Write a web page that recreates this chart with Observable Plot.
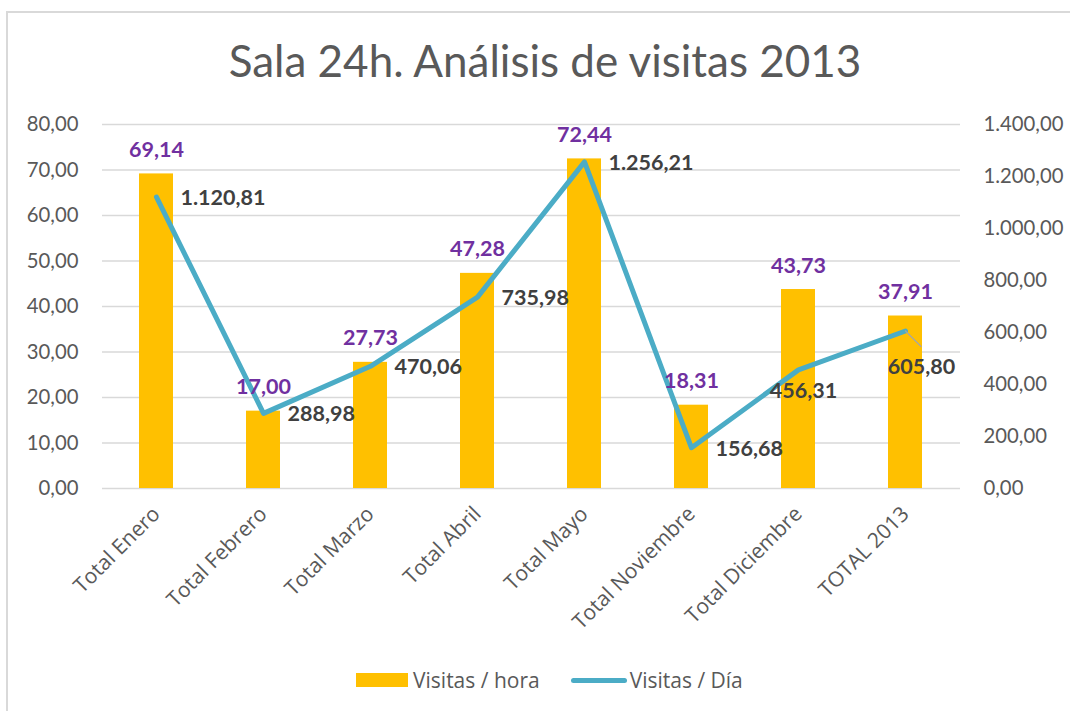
<!DOCTYPE html>
<html><head><meta charset="utf-8">
<script src="https://cdn.jsdelivr.net/npm/d3@7"></script>
<script src="https://cdn.jsdelivr.net/npm/@observablehq/plot@0.6"></script>
<style>
body{margin:0;background:#fff;font-family:Lato,"Open Sans",sans-serif;}
#wrap{position:relative;width:1070px;height:711px;overflow:hidden;background:#fff;}
#frame{position:absolute;left:6px;top:11px;width:1200px;height:800px;border-left:2px solid #D9D9D9;border-top:2px solid #D9D9D9;}
#title{position:absolute;left:0;width:1090px;top:34px;line-height:52px;text-align:center;font-size:44px;color:#595959;white-space:nowrap;font-family:Lato,sans-serif;}
#chart{position:absolute;left:0;top:0;}
#legend{position:absolute;left:356px;top:667px;height:26px;display:flex;align-items:center;font-size:21px;color:#595959;white-space:nowrap;font-family:"Open Sans",sans-serif;}
.sw-bar{width:52px;height:14px;background:#FFC000;margin-right:5px;}
.sw-line{width:56px;height:5px;border-radius:3px;background:#4BACC6;margin-right:3px;}
.lab{display:inline-block;}
</style>
</head><body>
<div id="wrap">
  <div id="frame"></div>
  <div id="chart"></div>
  <div id="title"></div>
  <div id="legend"></div>
</div>
<script>
const titleText = "Sala 24h. Análisis de visitas 2013";
const categories = ["Total Enero","Total Febrero","Total Marzo","Total Abril","Total Mayo","Total Noviembre","Total Diciembre","TOTAL 2013"];
const visitasHora = [69.14, 17.00, 27.73, 47.28, 72.44, 18.31, 43.73, 37.91];
const visitasDia = [1120.81, 288.98, 470.06, 735.98, 1256.21, 156.68, 456.31, 605.80];
const leftTicks = [0,10,20,30,40,50,60,70,80];
const rightTicks = [0,200,400,600,800,1000,1200,1400];
const seriesNames = ["Visitas / hora","Visitas / Día"];
const seriesColors = ["#FFC000","#4BACC6"];

const leftMax = 80, rightMax = 1400, k = leftMax / rightMax;
const locale = d3.formatLocale({decimal:",", thousands:".", grouping:[3], currency:["","€"]});
const fmt = locale.format(",.2f");

const data = categories.map((c,i)=>({cat:c, hora:visitasHora[i], dia:visitasDia[i], ys:visitasDia[i]*k}));
const belowLabel = ["Total Diciembre"];
const leaderLabel = ["TOTAL 2013"];
const normal = d => !belowLabel.includes(d.cat) && !leaderLabel.includes(d.cat);

const font = "Lato, 'Open Sans', sans-serif";

const chart = Plot.plot({
  width:1070, height:711,
  marginTop:124, marginBottom:223, marginLeft:102, marginRight:110,
  style:{fontFamily:font, fontSize:"20.3px", color:"#595959", background:"transparent", overflow:"visible"},
  x:{domain:categories, paddingInner:0.68, paddingOuter:0.34},
  y:{domain:[0,leftMax]},
  marks:[
    Plot.gridY(leftTicks, {stroke:"#D9D9D9", strokeOpacity:1, strokeWidth:1.3}),
    Plot.axisY({ticks:leftTicks, tickSize:0, tickPadding:24, tickFormat:fmt, label:null, fill:"#595959"}),
    Plot.axisY({anchor:"right", ticks:rightTicks.map(v=>v*k), tickSize:0, tickPadding:23, tickFormat:d=>fmt(Math.round(d/k*100)/100), label:null, fill:"#595959"}),
    Plot.axisX({tickRotate:-45, tickSize:0, tickPadding:22, label:null, fill:"#595959", fontFamily:"'Open Sans', sans-serif", fontSize:21}),
    Plot.barY(data, {x:"cat", y:"hora", fill:seriesColors[0]}),
    Plot.line(data, {x:"cat", y:"ys", stroke:seriesColors[1], strokeWidth:5, strokeLinejoin:"round", strokeLinecap:"round"}),
    Plot.vector(data.filter(d=>leaderLabel.includes(d.cat)), {x:"cat", y:"ys", length:22, rotate:135, anchor:"start", stroke:"#A6A6A6", strokeWidth:1.2,
      shape:{draw(ctx,l){ctx.moveTo(0,0); ctx.lineTo(0,-l);}}}),
    Plot.text(data, {x:"cat", y:"hora", text:d=>fmt(d.hora), lineAnchor:"bottom", dy:-17, fill:"#7030A0", fontWeight:"bold", fontSize:21.5}),
    Plot.text(data.filter(normal), {x:"cat", y:"ys", text:d=>fmt(d.dia), textAnchor:"start", dx:24, dy:1, fill:"#404040", fontWeight:"bold", fontSize:21.5}),
    Plot.text(data.filter(d=>belowLabel.includes(d.cat)), {x:"cat", y:"ys", text:d=>fmt(d.dia), textAnchor:"middle", dx:5, dy:21, fill:"#404040", fontWeight:"bold", fontSize:21.5}),
    Plot.text(data.filter(d=>leaderLabel.includes(d.cat)), {x:"cat", y:"ys", text:d=>fmt(d.dia), textAnchor:"middle", dx:16, dy:36, fill:"#404040", fontWeight:"bold", fontSize:21.5})
  ]
});
document.getElementById("chart").appendChild(chart);
document.getElementById("title").textContent = titleText;
const leg = document.getElementById("legend");
leg.innerHTML = `<span class="sw-bar"></span><span class="lab" style="margin-right:31px">${seriesNames[0]}</span><span class="sw-line"></span><span class="lab">${seriesNames[1]}</span>`;
</script>
</body></html>
